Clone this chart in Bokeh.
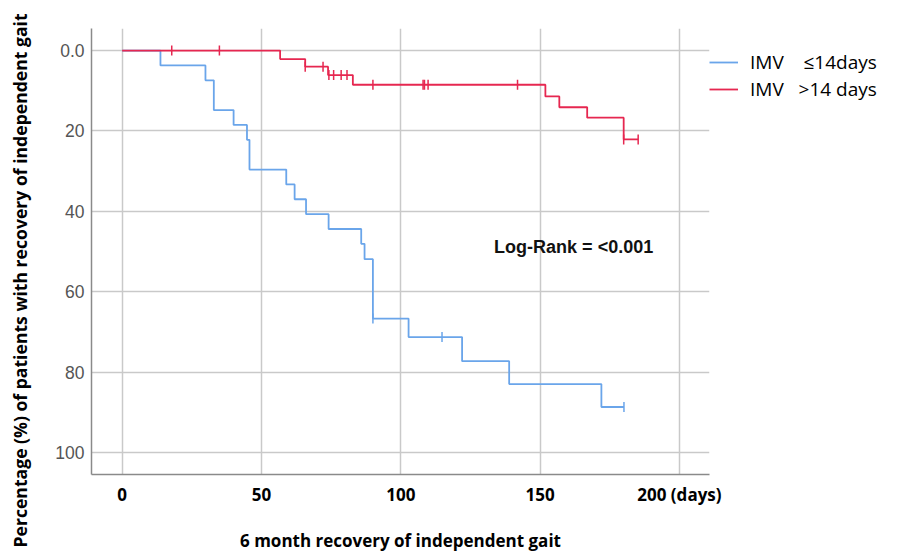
from bokeh.plotting import figure
from bokeh.models import Range1d, Label, Legend, LegendItem, FixedTicker, Title
from bokeh.embed import file_html
from bokeh.resources import INLINE
import numpy as np

# ---- data ----
blue_t = [0, 13.75, 29.9, 32.9, 40.0, 44.8, 45.7, 58.9, 61.9, 66.0, 74.1, 85.8, 87.0, 90.0, 102.8, 122.0, 138.9, 172.0, 180.1]
blue_y = [0, 3.7, 7.4, 14.8, 18.5, 22.2, 29.6, 33.3, 37.0, 40.7, 44.4, 48.1, 51.9, 66.7, 71.3, 77.3, 83.0, 88.7, 88.7]
blue_cens_t = [90.0, 114.8, 180.1]
blue_cens_y = [66.7, 71.3, 88.7]

red_t = [0, 56.7, 65.7, 73.9, 82.8, 151.9, 156.9, 166.9, 180.0, 185.2]
red_y = [0, 2.1, 4.0, 6.1, 8.5, 11.4, 14.1, 16.7, 22.1, 22.1]
red_cens_t = [17.8, 34.9, 65.7, 72.1, 74.2, 75.9, 78.6, 80.7, 90.0, 108.0, 108.5, 109.8, 141.9, 180.0, 185.2]
red_cens_y = [0, 0, 4.0, 4.0, 6.1, 6.1, 6.1, 6.1, 8.5, 8.5, 8.5, 8.5, 8.5, 22.1, 22.1]

x_ticks = [0, 50, 100, 150, 200]
x_tick_labels = {200: "200 (days)"}
y_ticks = [0, 20, 40, 60, 80, 100]
y_tick_labels = {0: "0.0"}

series_labels = ["IMV\u00a0\u00a0\u00a0\u00a0\u226414days", "IMV\u00a0\u00a0\u00a0>14 days"]
x_title = "6 month recovery of independent gait"
y_title = "Percentage (%) of patients with recovery of independent gait"
logrank_text = "Log-Rank = <0.001"

BLUE = "#6aa5ea"
RED = "#e62750"

p = figure(frame_width=618, frame_height=446, output_backend="svg", toolbar_location=None,
           x_range=Range1d(-11, 210.8), y_range=Range1d(105.5, -5.5),
           min_border_left=90, min_border_right=183, min_border_top=28, min_border_bottom=76)
p.outline_line_color = None
p.background_fill_color = "white"
p.border_fill_color = "white"

# grid
p.xgrid.ticker = FixedTicker(ticks=x_ticks)
p.ygrid.ticker = FixedTicker(ticks=y_ticks)
for g in (p.xgrid, p.ygrid):
    g.grid_line_color = "#c9c9c9"
    g.grid_line_width = 1.5

# axes
p.xaxis.ticker = FixedTicker(ticks=x_ticks)
p.yaxis.ticker = FixedTicker(ticks=y_ticks)
p.xaxis.major_label_overrides = x_tick_labels
p.yaxis.major_label_overrides = y_tick_labels
for ax in (p.xaxis, p.yaxis):
    ax.axis_line_color = "#8a8a8a"
    ax.axis_line_width = 1.5
    ax.major_tick_line_color = None
    ax.minor_tick_line_color = None
    ax.major_tick_out = 0
    ax.major_tick_in = 0

p.xaxis.major_label_text_font = "Open Sans"
p.xaxis.major_label_text_font_style = "bold"
p.xaxis.major_label_text_font_size = "17px"
p.xaxis.major_label_text_color = "black"
p.xaxis.major_label_standoff = 8
p.xaxis.axis_label = x_title
p.xaxis.axis_label_text_font = "Open Sans"
p.xaxis.axis_label_text_font_style = "bold"
p.xaxis.axis_label_text_font_size = "17px"
p.xaxis.axis_label_text_color = "black"
p.xaxis.axis_label_standoff = 20

p.yaxis.major_label_text_font = "Liberation Sans"
p.yaxis.major_label_text_font_size = "17.5px"
p.yaxis.major_label_text_color = "#555555"
p.yaxis.major_label_standoff = 7
# invisible spacer label to push the vertical title further left
p.yaxis.axis_label = "\u00a0"
p.yaxis.axis_label_text_font_size = "1px"
p.yaxis.axis_label_standoff = 12

# curves
rb = p.step(blue_t, blue_y, mode="after", line_color=BLUE, line_width=1.8)
rr = p.step(red_t, red_y, mode="after", line_color=RED, line_width=1.8)
p.scatter(blue_cens_t, blue_cens_y, marker="dash", angle=np.pi / 2, size=10, line_color=BLUE, line_width=1.5)
p.scatter(red_cens_t, red_cens_y, marker="dash", angle=np.pi / 2, size=10, line_color=RED, line_width=1.5)

# log-rank annotation
p.add_layout(Label(x=133.5, y=48.8, text=logrank_text, text_font="Liberation Sans",
                   text_font_style="bold", text_font_size="18px", text_color="#111111",
                   text_baseline="middle", text_align="left"))

# y title as a vertical title in the left panel, starting below the frame bottom
p.add_layout(Title(text=y_title, align="left", offset=-73, text_font="Open Sans",
                   text_font_style="bold", text_font_size="17.6px", text_color="black"), "left")

legend = Legend(items=[LegendItem(label=series_labels[0], renderers=[rb]),
                       LegendItem(label=series_labels[1], renderers=[rr])],
                location="top_left", margin=0, padding=7, spacing=1,
                title="\u00a0", title_text_font_size="15px", title_standoff=4,
                glyph_width=29, glyph_height=20, label_height=20, label_standoff=12,
                label_text_font="Open Sans", label_text_font_size="19px",
                label_text_color="black", label_text_baseline="middle",
                border_line_color=None, background_fill_color="white", background_fill_alpha=0)
p.add_layout(legend, "right")

open("out.html", "w").write(file_html(p, INLINE))
